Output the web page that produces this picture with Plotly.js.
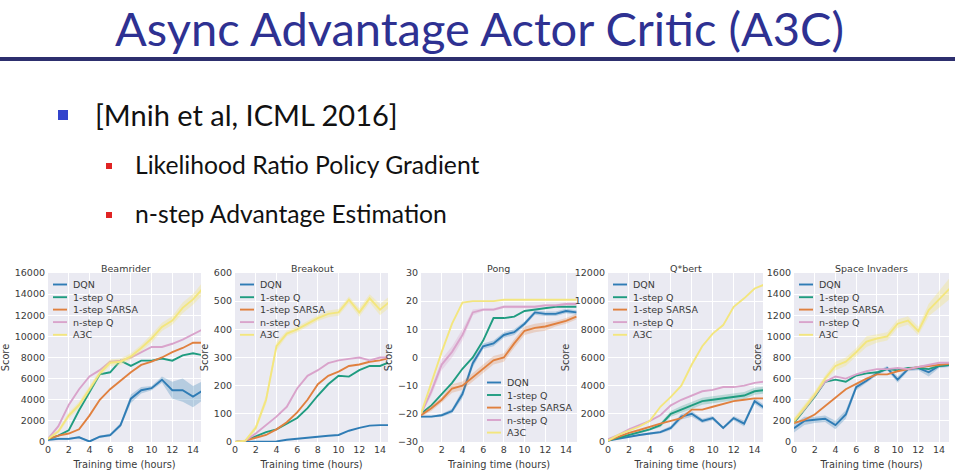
<!DOCTYPE html>
<html><head><meta charset="utf-8">
<script src="https://cdn.plot.ly/plotly-3.0.1.min.js"></script>
<style>html,body{margin:0;padding:0;background:#fff}#chart{width:955px;height:475px}</style>
</head><body><div id="chart"></div>
<script>
// ---------- data ----------
const hours = [0,1,2,3,4,5,6,7,8,9,10,11,12,13,14,15];
const seriesNames = ['DQN','1-step Q','1-step SARSA','n-step Q','A3C'];
const gameTitles = ['Beamrider','Breakout','Pong','Q*bert','Space Invaders'];
const slideTitle = 'Async Advantage Actor Critic (A3C)';
const bulletMain = '[Mnih et al, ICML 2016]';
const bulletSubs = ['Likelihood Ratio Policy Gradient','n-step Advantage Estimation'];
const xLabel = 'Training time (hours)';
const yLabel = 'Score';

const beamriderDQN   = [200,300,300,450,50,500,650,1600,4100,4900,5100,5900,4900,4900,4300,4900];
const beamriderQ     = [250,600,1100,3000,4700,6400,6600,7700,7200,7700,7700,7900,7700,8200,8400,8200];
const beamriderSARSA = [300,600,800,1200,2500,4000,5000,5800,6600,7300,7600,8000,8500,8900,9400,9400];
const beamriderNQ    = [300,1500,3500,5000,6200,6800,7600,7700,8000,8500,9000,9000,9300,9700,10200,10700];
const beamriderA3C   = [300,1000,2500,3500,5000,6500,7500,7600,8100,8900,9800,10900,11500,12700,13500,14600];

const breakoutDQN   = [0,0,0,0,2,8,12,15,20,22,25,40,50,58,60,60];
const breakoutQ     = [0,5,20,35,45,65,85,120,165,205,235,232,255,270,270,285];
const breakoutSARSA = [0,5,15,25,45,70,105,150,205,235,250,270,275,285,290,300];
const breakoutNQ    = [0,5,30,60,90,125,190,235,255,280,290,295,300,290,300,300];
const breakoutA3C   = [0,5,50,150,340,385,400,420,440,455,460,505,460,510,470,500];

const pongDQN   = [-21,-21,-20.5,-19,-13,-2,4,5,8,9,12,16,15.5,15.5,16.5,16];
const pongQ     = [-20,-17,-13,-9,-4,0,6,14,14,14.5,16.5,17,17.5,18,18,18];
const pongSARSA = [-20.5,-18,-15,-11,-10,-7,-4,-1,0,5,9.5,10.5,11,12,13,14.5];
const pongNQ    = [-20,-12,-2.5,2,8,16,17,17,18,18,18,18,18.5,18.5,19,19];
const pongA3C   = [-20,-9,2,12,19.5,20,20,20,20.5,20.5,20.5,20.5,20.5,20.5,20.5,20.5];

const qbertDQN   = [100,250,400,500,600,700,1000,1800,2000,1500,1700,1000,1700,1300,2900,2400];
const qbertQ     = [100,300,500,700,900,1200,2000,2300,2600,2900,3000,3100,3200,3300,3600,3700];
const qbertSARSA = [100,400,650,850,1100,1300,1500,1700,2300,2300,2500,2700,2900,3000,3100,3100];
const qbertNQ    = [200,500,900,1200,1500,1900,2600,3000,3300,3600,3700,3900,3900,4000,4200,4300];
const qbertA3C   = [100,500,800,1100,1500,2500,3200,4000,5500,6800,7700,8300,9600,10200,10900,11200];

const invadersDQN   = [130,200,210,220,160,260,520,580,650,700,590,690,700,660,720,730];
const invadersQ     = [180,300,430,570,590,570,630,650,660,690,680,700,700,690,720,730];
const invadersSARSA = [180,210,260,340,420,500,550,600,640,640,670,690,710,720,730,740];
const invadersNQ    = [200,310,440,570,620,600,640,670,690,690,700,690,710,730,750,750];
const invadersA3C   = [200,320,450,600,720,760,850,950,980,1000,1120,1150,1050,1250,1350,1450];

// shaded spread (half-width) for the clearly visible bands
const beamriderDQNBand = [100,100,100,100,100,100,150,200,400,300,200,300,800,1100,1000,900];
const beamriderA3CBand = [100,200,300,300,300,300,300,300,300,300,400,400,400,500,500,600];
const breakoutA3CBand  = [2,4,10,15,15,10,10,10,10,12,12,12,15,15,20,20];
const pongSARSABand    = [0.5,1,1,1.5,1.5,1.5,1.5,1.5,1.5,1.5,1.5,1.5,1.5,1,1,1];
const pongNQBand       = [0.5,1.5,2,2,2,1,0.5,0.5,0.5,0.5,0.5,0.5,0.5,0.5,0.5,0.5];
const pongDQNBand      = [0.3,0.3,0.5,0.8,1.5,1.5,1,1,1,1,0.8,0.8,0.8,0.8,0.8,0.8];
const qbertQBand       = [50,50,80,100,100,150,200,250,250,250,250,250,250,250,250,250];
const qbertDQNBand     = [30,30,50,50,80,100,150,200,200,150,150,100,150,200,200,200];
const invadersA3CBand  = [30,30,30,30,40,40,40,50,40,40,40,40,40,60,80,100];
const invadersDQNBand  = [40,40,30,30,40,40,30,20,20,20,30,20,20,40,20,20];

// ---------- styling ----------
const lineColors = ['#2f7cb5','#1f9c80','#e0803f','#d9a3cb','#f3e67e'];
const bandColors = ['rgba(47,124,181,0.28)','rgba(31,156,128,0.25)','rgba(224,128,63,0.25)','rgba(217,163,203,0.3)','rgba(243,230,126,0.35)'];

const games = [
  {series:[beamriderDQN,beamriderQ,beamriderSARSA,beamriderNQ,beamriderA3C],
   bands:[beamriderDQNBand,null,null,null,beamriderA3CBand],
   px:[48,201], range:[0,14.77], yr:[0,16000], dt:2000, leg:'tl'},
  {series:[breakoutDQN,breakoutQ,breakoutSARSA,breakoutNQ,breakoutA3C],
   bands:[null,null,null,null,breakoutA3CBand],
   px:[235,388], range:[0,14.77], yr:[0,600], dt:100, leg:'tl'},
  {series:[pongDQN,pongQ,pongSARSA,pongNQ,pongA3C],
   bands:[pongDQNBand,null,pongSARSABand,pongNQBand,null],
   px:[421,577], range:[0,15.06], yr:[-30,30], dt:10, leg:'br'},
  {series:[qbertDQN,qbertQ,qbertSARSA,qbertNQ,qbertA3C],
   bands:[qbertDQNBand,qbertQBand,null,null,null],
   px:[608,763], range:[0,14.8], yr:[0,12000], dt:2000, leg:'tl'},
  {series:[invadersDQN,invadersQ,invadersSARSA,invadersNQ,invadersA3C],
   bands:[invadersDQNBand,null,null,null,invadersA3CBand],
   px:[794,949], range:[0,14.96], yr:[0,1600], dt:200, leg:'tl'}
];

const W = 955, H = 475;
const px2x = p => p / W;
const px2y = p => 1 - p / H;
const plotTop = 273, plotBot = 442;
const tickFont = {family:'DejaVu Sans', size:9.5, color:'#3a3a3a'};

const traces = [];
const layout = {
  width:W, height:H, margin:{l:0,r:0,t:0,b:0},
  paper_bgcolor:'#ffffff', plot_bgcolor:'#eaeaf2',
  showlegend:false, font:{family:'DejaVu Sans', color:'#3a3a3a'},
  shapes:[], annotations:[]
};

games.forEach((g, i) => {
  const sfx = i === 0 ? '' : String(i + 1);
  const xa = 'x' + sfx, ya = 'y' + sfx;
  g.series.forEach((vals, k) => {
    const b = g.bands[k];
    if (b) {
      const up = vals.map((v, j) => v + b[j]);
      const lo = vals.map((v, j) => v - b[j]);
      traces.push({type:'scatter', mode:'lines', xaxis:xa, yaxis:ya,
        x: hours.concat(hours.slice().reverse()),
        y: up.concat(lo.slice().reverse()),
        fill:'toself', fillcolor:bandColors[k], line:{width:0}, hoverinfo:'skip'});
    }
    traces.push({type:'scatter', mode:'lines', xaxis:xa, yaxis:ya, name:seriesNames[k],
      x:hours, y:vals, line:{color:lineColors[k], width:1.9}});
  });
  layout['xaxis' + sfx] = {
    domain:[px2x(g.px[0]), px2x(g.px[1])], range:g.range, anchor:ya,
    tickvals:[0,2,4,6,8,10,12,14], showgrid:true, gridcolor:'#ffffff', gridwidth:1,
    zeroline:false, showline:false, ticks:'', tickfont:tickFont,
    title:{text:xLabel, font:{family:'DejaVu Sans', size:9.8, color:'#3a3a3a'}, standoff:7}
  };
  layout['yaxis' + sfx] = {
    domain:[px2y(plotBot), px2y(plotTop)], range:g.yr, dtick:g.dt, anchor:xa,
    showgrid:true, gridcolor:'#ffffff', gridwidth:1, zeroline:false, showline:false,
    ticks:'', tickfont:tickFont, tickformat:'d', ticklabelstandoff:2,
    title:{text:yLabel, font:{family:'DejaVu Sans', size:9.8, color:'#3a3a3a'}, standoff:3}
  };
  // subplot title
  layout.annotations.push({xref:'paper', yref:'paper', x:px2x((g.px[0] + g.px[0] + 155) / 2), y:px2y(268),
    text:gameTitles[i], showarrow:false, xanchor:'center', yanchor:'middle',
    font:{family:'DejaVu Sans', size:9.5, color:'#3a3a3a'}});
  // legend (drawn manually, seaborn style)
  const rowsTL = [284.5, 297.2, 309.6, 322.1, 334.8];
  const rowsBR = [382.5, 395, 407.6, 420, 432.6];
  const rows = g.leg === 'tl' ? rowsTL : rowsBR;
  const lx0 = g.leg === 'tl' ? g.px[0] + 5 : g.px[0] + 66;
  seriesNames.forEach((nm, k) => {
    layout.shapes.push({type:'line', xref:'paper', yref:'paper',
      x0:px2x(lx0), x1:px2x(lx0 + 14), y0:px2y(rows[k]), y1:px2y(rows[k]),
      line:{color:lineColors[k], width:1.9}});
    layout.annotations.push({xref:'paper', yref:'paper', x:px2x(lx0 + 18), y:px2y(rows[k]),
      text:nm, showarrow:false, xanchor:'left', yanchor:'middle',
      font:{family:'DejaVu Sans', size:9.5, color:'#3a3a3a'}});
  });
});

// ---------- slide decorations ----------
layout.shapes.push({type:'line', xref:'paper', yref:'paper', x0:0, x1:1, y0:px2y(59), y1:px2y(59),
  line:{color:'#2d2f6e', width:4}});
layout.shapes.push({type:'rect', xref:'paper', yref:'paper', x0:px2x(58), x1:px2x(68), y0:px2y(120), y1:px2y(110),
  fillcolor:'#3344cc', line:{width:0}});
[166, 215].forEach(cy => layout.shapes.push({type:'rect', xref:'paper', yref:'paper',
  x0:px2x(106), x1:px2x(112), y0:px2y(cy + 3), y1:px2y(cy - 3), fillcolor:'#e02424', line:{width:0}}));

layout.annotations.push({xref:'paper', yref:'paper', x:px2x(479), y:px2y(28), text:slideTitle,
  showarrow:false, xanchor:'center', yanchor:'middle',
  font:{family:'Lato', size:47, color:'#2e3192'}});
layout.annotations.push({xref:'paper', yref:'paper', x:px2x(93), y:px2y(115), text:bulletMain,
  showarrow:false, xanchor:'left', yanchor:'middle',
  font:{family:'Lato', size:29, color:'#111111'}});
layout.annotations.push({xref:'paper', yref:'paper', x:px2x(133), y:px2y(165), text:bulletSubs[0],
  showarrow:false, xanchor:'left', yanchor:'middle',
  font:{family:'Lato', size:24.7, color:'#111111'}});
layout.annotations.push({xref:'paper', yref:'paper', x:px2x(133), y:px2y(213), text:bulletSubs[1],
  showarrow:false, xanchor:'left', yanchor:'middle',
  font:{family:'Lato', size:24.7, color:'#111111'}});

Plotly.newPlot('chart', traces, layout, {staticPlot:true, displayModeBar:false});
</script>
</body></html>
